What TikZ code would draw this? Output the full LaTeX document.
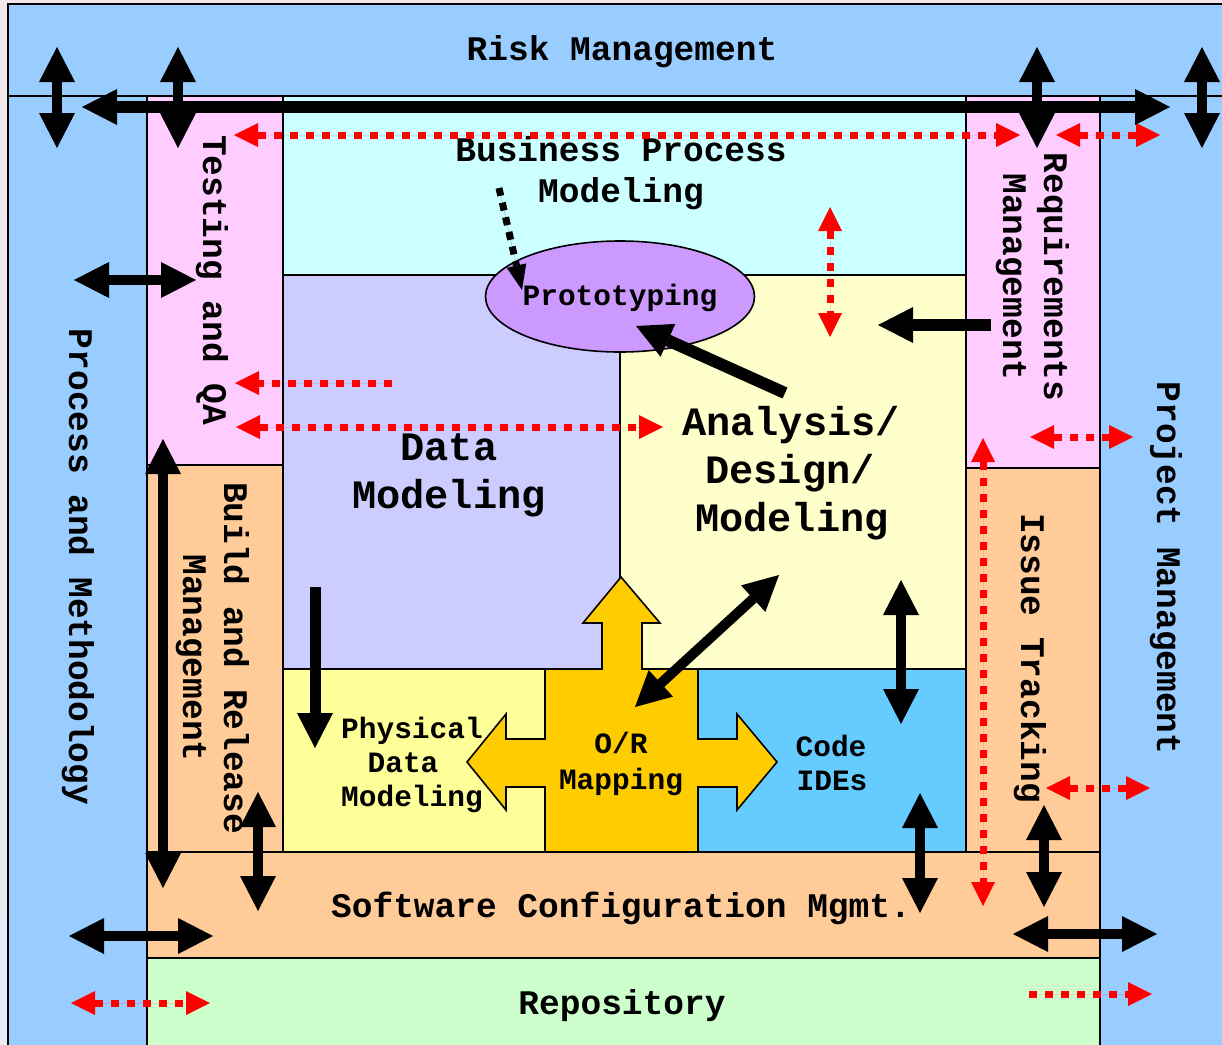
\documentclass[tikz,border=0pt]{standalone}
\usepackage{fontspec}
\setmonofont{Liberation Mono}
\usetikzlibrary{arrows.meta,shapes.geometric}
\definecolor{bgtop}{HTML}{F2E6E8}
\definecolor{bgbot}{HTML}{E6EBF4}
\definecolor{cblue}{HTML}{99CCFF}
\definecolor{cpink}{HTML}{FFCCFF}
\definecolor{corange}{HTML}{FFCC99}
\definecolor{ccyan}{HTML}{CCFFFF}
\definecolor{clav}{HTML}{CCCCFF}
\definecolor{clyel}{HTML}{FFFFCC}
\definecolor{cyel}{HTML}{FFFF99}
\definecolor{cgold}{HTML}{FFCC00}
\definecolor{ccode}{HTML}{66CCFF}
\definecolor{cgreen}{HTML}{CCFFCC}
\definecolor{cproto}{HTML}{CC99FF}
\begin{document}
\begin{tikzpicture}[x=1pt,y=-1pt,
  box/.style={draw=black,line width=1.6pt},
  txt/.style={font=\ttfamily\bfseries\fontsize{34.5}{41}\selectfont,inner sep=0pt,anchor=base},
  bigtxt/.style={font=\ttfamily\bfseries\fontsize{40.3}{48}\selectfont,inner sep=0pt,anchor=base},
  smalltxt/.style={font=\ttfamily\bfseries\fontsize{29.5}{35}\selectfont,inner sep=0pt,anchor=base},
  tipB/.tip={Triangle[length=35pt,width=36pt,line width=0pt]},
  tipR/.tip={Triangle[length=24pt,width=24pt,line width=0pt]},
  tipD/.tip={Triangle[length=25pt,width=20pt,line width=0pt]},
  blk/.style={draw=black,line width=10pt},
  blkthick/.style={draw=black,line width=12pt},
  reddot/.style={draw=red,fill=red,line width=7pt,dash pattern=on 8pt off 8pt},
  blkdot/.style={draw=black,fill=black,line width=7pt,dash pattern=on 8pt off 7pt}
]
\useasboundingbox (0,0) rectangle (1222,1044);
\clip (0,0) rectangle (1222,1044);
\fill[top color=bgtop,bottom color=bgbot] (0,0) rectangle (1222,1044);

% ---------- regions ----------
\draw[box,fill=cblue] (8,4) rectangle (1240,96);
\draw[box,fill=cblue] (8,96) rectangle (147,1060);
\draw[box,fill=cblue] (1100,96) rectangle (1240,1060);
\draw[box,fill=cpink] (147,96) rectangle (283,465);
\draw[box,fill=corange] (147,465) rectangle (283,852);
\draw[box,fill=ccyan] (283,96) rectangle (966,275);
\draw[box,fill=clav] (283,275) rectangle (620,669);
\draw[box,fill=clyel] (620,275) rectangle (966,669);
\draw[box,fill=cpink] (966,96) rectangle (1100,468);
\draw[box,fill=corange] (966,468) rectangle (1100,852);
\draw[box,fill=cyel] (283,669) rectangle (545,852);
\draw[box,fill=ccode] (698,669) rectangle (966,852);
\draw[box,fill=corange] (147,852) rectangle (1100,958);
\draw[box,fill=cgreen] (147,958) rectangle (1100,1060);

% O/R mapping cross-arrow shape
\draw[box,fill=cgold,line join=miter]
  (545,852) -- (545,787) -- (506,787) -- (506,810) -- (467,762) -- (506,714)
  -- (506,739) -- (545,739) -- (545,669) -- (602,669) -- (602,623) -- (583,623)
  -- (621,577) -- (660,623) -- (642,623) -- (642,669) -- (698,669) -- (698,739)
  -- (737,739) -- (737,714) -- (777,762) -- (737,810) -- (737,787) -- (698,787)
  -- (698,852) -- cycle;

% Prototyping ellipse
\node[draw=black,line width=1.6pt,fill=cproto,ellipse,minimum width=269pt,
      minimum height=111pt,inner sep=0pt] (proto) at (620,296.5) {};

% ---------- texts ----------
\node[txt] (risk) at (622,60) {Risk Management};
\node[txt] (bpm1) at (621,161) {Business Process};
\node[txt] (bpm2) at (621,202) {Modeling};
\node[bigtxt] (dm1) at (449,460) {Data};
\node[bigtxt] (dm2) at (449,508) {Modeling};
\node[bigtxt] (adm1) at (791,435) {Analysis/};
\node[bigtxt] (adm2) at (790,483) {Design/};
\node[bigtxt] (adm3) at (792,531) {Modeling};
\node[smalltxt] (protlbl) at (620,305) {Prototyping};
\node[smalltxt] (pdm1) at (412,738) {Physical};
\node[smalltxt] (pdm2) at (403,772) {Data};
\node[smalltxt] (pdm3) at (412,806) {Modeling};
\node[smalltxt] (or1) at (621,753) {O/R};
\node[smalltxt] (or2) at (621,789) {Mapping};
\node[smalltxt] (code1) at (831,756) {Code};
\node[smalltxt] (code2) at (832,790) {IDEs};
\node[txt] (scm) at (621,917) {Software Configuration Mgmt.};
\node[txt] (repo) at (622,1014) {Repository};
\node[txt,rotate=-90] (pm) at (69,567) {Process and Methodology};
\node[txt,rotate=-90] (tqa) at (203,280) {Testing and QA};
\node[txt,rotate=-90] (br1) at (224,658) {Build and Release};
\node[txt,rotate=-90] (br2) at (183,658) {Management};
\node[txt,rotate=-90] (rm1) at (1044,277) {Requirements};
\node[txt,rotate=-90] (rm2) at (1003,277) {Management};
\node[txt,rotate=-90] (it) at (1021,658) {Issue Tracking};
\node[txt,rotate=-90] (prj) at (1157,568) {Project Management};

% ---------- arrow end points ----------
\coordinate (b1a) at (57,47);    \coordinate (b1b) at (57,148);
\coordinate (b2a) at (178,47);   \coordinate (b2b) at (178,148);
\coordinate (b3a) at (82,107);   \coordinate (b3b) at (1170,107);
\coordinate (b4a) at (1037,47);  \coordinate (b4b) at (1037,148);
\coordinate (b5a) at (1202,47);  \coordinate (b5b) at (1202,148);
\coordinate (b6a) at (74,280);   \coordinate (b6b) at (196,280);
\coordinate (b7a) at (163,439);  \coordinate (b7b) at (163,888);
\coordinate (b8a) at (258,792);  \coordinate (b8b) at (258,911);
\coordinate (b9a) at (69,936);   \coordinate (b9b) at (213,936);
\coordinate (b10a) at (315,587); \coordinate (b10b) at (315,748);
\coordinate (b11a) at (499,188); \coordinate (b11b) at (522,290);
\coordinate (b12a) at (785,393); \coordinate (b12b) at (636,326);
\coordinate (b13a) at (991,325); \coordinate (b13b) at (878,325);
\coordinate (b14a) at (779,575); \coordinate (b14b) at (635,707);
\coordinate (b15a) at (901,580); \coordinate (b15b) at (901,724);
\coordinate (b16a) at (920,793); \coordinate (b16b) at (920,913);
\coordinate (b17a) at (1044,805);\coordinate (b17b) at (1044,907);
\coordinate (b18a) at (1013,934);\coordinate (b18b) at (1157,934);

\coordinate (r1a) at (234,135);  \coordinate (r1b) at (1020,135);
\coordinate (r2a) at (1056,135); \coordinate (r2b) at (1160,135);
\coordinate (r3a) at (830,207);  \coordinate (r3b) at (830,337);
\coordinate (r4a) at (392,383);  \coordinate (r4b) at (235,383);
\coordinate (r5a) at (236,427);  \coordinate (r5b) at (663,427);
\coordinate (r6a) at (1030,437); \coordinate (r6b) at (1133,437);
\coordinate (r7a) at (983,438);  \coordinate (r7b) at (983,906);
\coordinate (r8a) at (1046,788); \coordinate (r8b) at (1150,788);
\coordinate (r9a) at (71,1003);  \coordinate (r9b) at (210,1003);
\coordinate (r10a) at (1029,994);\coordinate (r10b) at (1152,994);

% ---------- red dotted arrows ----------
\draw[reddot,tipR-tipR] (r1a) -- (r1b);
\draw[reddot,tipR-tipR] (r2a) -- (r2b);
\draw[reddot,tipR-tipR] (r3a) -- (r3b);
\draw[reddot,-tipR] (r4a) -- (r4b);
\draw[reddot,tipR-tipR] (r5a) -- (r5b);
\draw[reddot,tipR-tipR] (r6a) -- (r6b);
\draw[reddot,tipR-tipR] (r7a) -- (r7b);
\draw[reddot,tipR-tipR] (r8a) -- (r8b);
\draw[reddot,tipR-tipR] (r9a) -- (r9b);
\draw[reddot,-tipR] (r10a) -- (r10b);

% ---------- black arrows ----------
\draw[blk,tipB-tipB] (b1a) -- (b1b);
\draw[blk,tipB-tipB] (b2a) -- (b2b);
\draw[blkthick,tipB-tipB] (b3a) -- (b3b);
\draw[blk,tipB-tipB] (b4a) -- (b4b);
\draw[blk,tipB-tipB] (b5a) -- (b5b);
\draw[blk,tipB-tipB] (b6a) -- (b6b);
\draw[blk,tipB-tipB] (b7a) -- (b7b);
\draw[blk,tipB-tipB] (b8a) -- (b8b);
\draw[blk,tipB-tipB] (b9a) -- (b9b);
\draw[blk,line width=11pt,-tipB] (b10a) -- (b10b);
\draw[blkdot,-tipD] (b11a) -- (b11b);
\draw[blkthick,-tipB] (b12a) -- (b12b);
\draw[blkthick,-tipB] (b13a) -- (b13b);
\draw[blk,tipB-tipB] (b14a) -- (b14b);
\draw[blk,tipB-tipB] (b15a) -- (b15b);
\draw[blk,tipB-tipB] (b16a) -- (b16b);
\draw[blk,tipB-tipB] (b17a) -- (b17b);
\draw[blk,tipB-tipB] (b18a) -- (b18b);
\end{tikzpicture}
\end{document}
